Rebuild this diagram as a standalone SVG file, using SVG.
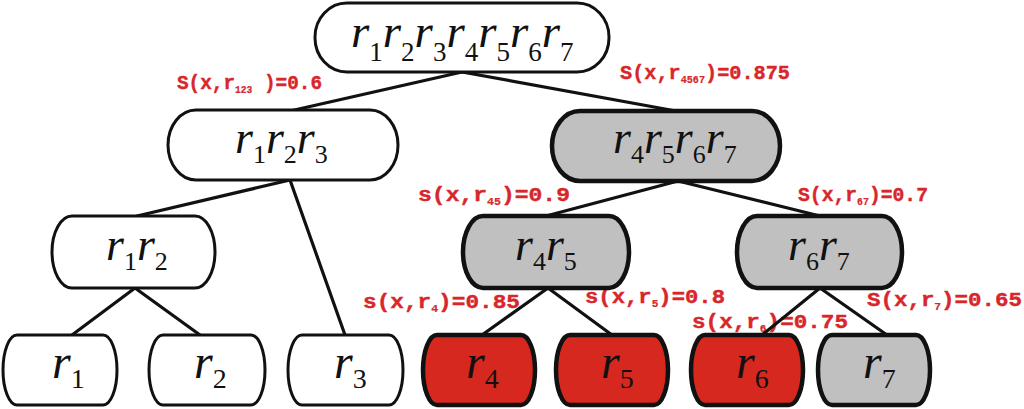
<svg xmlns="http://www.w3.org/2000/svg" width="1024" height="409" viewBox="0 0 1024 409">
<style>
.lbl{font-family:"Liberation Mono","Courier New",monospace;font-weight:bold;font-size:20px;fill:#d8262a;stroke:#d8262a;stroke-width:0.4}
.lbl .s{font-size:10px;stroke-width:0.2}
.nt{font-family:"Liberation Serif","Times New Roman",serif;font-style:italic;fill:#111}
.nt .s{font-style:normal}
.w{fill:#fff;stroke:#111;stroke-width:3}
.g{fill:#c0c0c0;stroke:#111;stroke-width:4.5}
.r{fill:#d6281f;stroke:#111;stroke-width:4.5}
.cn line{stroke:#111;stroke-width:3.2;stroke-linecap:round}
</style>
<g id="labels">
<text class="lbl" x="177" y="89" textLength="145" lengthAdjust="spacingAndGlyphs">S(x,r<tspan class="s" dy="4">123</tspan><tspan dy="-4"> )=0.6</tspan></text>
<text class="lbl" x="620" y="79" textLength="170" lengthAdjust="spacingAndGlyphs">S(x,r<tspan class="s" dy="4">4567</tspan><tspan dy="-4">)=0.875</tspan></text>
<text class="lbl" x="418" y="201" textLength="152" lengthAdjust="spacingAndGlyphs">s(x,r<tspan class="s" dy="4">45</tspan><tspan dy="-4">)=0.9</tspan></text>
<text class="lbl" x="798" y="201" textLength="130" lengthAdjust="spacingAndGlyphs">S(x,r<tspan class="s" dy="4">67</tspan><tspan dy="-4">)=0.7</tspan></text>
<text class="lbl" x="363" y="308" textLength="157" lengthAdjust="spacingAndGlyphs">s(x,r<tspan class="s" dy="4">4</tspan><tspan dy="-4">)=0.85</tspan></text>
<text class="lbl" x="585" y="303" textLength="140" lengthAdjust="spacingAndGlyphs">s(x,r<tspan class="s" dy="4">5</tspan><tspan dy="-4">)=0.8</tspan></text>
<text class="lbl" x="692" y="328" textLength="156" lengthAdjust="spacingAndGlyphs">s(x,r<tspan class="s" dy="4">6</tspan><tspan dy="-4">)=0.75</tspan></text>
<text class="lbl" x="867" y="306" textLength="155" lengthAdjust="spacingAndGlyphs">S(x,r<tspan class="s" dy="4">7</tspan><tspan dy="-4">)=0.65</tspan></text>
</g>
<g id="connectors" class="cn">
<line x1="462" y1="72" x2="290" y2="111"/>
<line x1="462" y1="72" x2="676" y2="111"/>
<line x1="290" y1="180" x2="137" y2="216"/>
<line x1="290" y1="180" x2="345" y2="335"/>
<line x1="135" y1="288" x2="72" y2="335"/>
<line x1="135" y1="288" x2="200" y2="335"/>
<line x1="678" y1="181" x2="546" y2="216"/>
<line x1="678" y1="181" x2="820" y2="216"/>
<line x1="548" y1="288" x2="482" y2="335"/>
<line x1="548" y1="288" x2="612" y2="335"/>
<line x1="820" y1="288" x2="762" y2="335"/>
<line x1="820" y1="288" x2="887" y2="335"/>
</g>
<g id="n_root">
<rect class="w" x="315" y="3" width="294" height="69" rx="32" ry="34"/>
<text class="nt" x="351" y="47" font-size="47">r<tspan class="s" font-size="27" dy="14">1</tspan><tspan dy="-14">r</tspan><tspan class="s" font-size="27" dy="14">2</tspan><tspan dy="-14">r</tspan><tspan class="s" font-size="27" dy="14">3</tspan><tspan dy="-14">r</tspan><tspan class="s" font-size="27" dy="14">4</tspan><tspan dy="-14">r</tspan><tspan class="s" font-size="27" dy="14">5</tspan><tspan dy="-14">r</tspan><tspan class="s" font-size="27" dy="14">6</tspan><tspan dy="-14">r</tspan><tspan class="s" font-size="27" dy="14">7</tspan></text>
</g>
<g id="n_r123">
<rect class="w" x="168" y="110" width="230" height="70" rx="28" ry="35"/>
<text class="nt" x="235" y="153" font-size="46">r<tspan class="s" font-size="26" dy="10">1</tspan><tspan dy="-10">r</tspan><tspan class="s" font-size="26" dy="10">2</tspan><tspan dy="-10">r</tspan><tspan class="s" font-size="26" dy="10">3</tspan></text>
</g>
<g id="n_r4567">
<rect class="g" x="552" y="111" width="228" height="70" rx="28" ry="35"/>
<text class="nt" x="613" y="153" font-size="46">r<tspan class="s" font-size="26" dy="10">4</tspan><tspan dy="-10">r</tspan><tspan class="s" font-size="26" dy="10">5</tspan><tspan dy="-10">r</tspan><tspan class="s" font-size="26" dy="10">6</tspan><tspan dy="-10">r</tspan><tspan class="s" font-size="26" dy="10">7</tspan></text>
</g>
<g id="n_r12">
<rect class="w" x="52" y="216" width="163" height="72" rx="20" ry="36"/>
<text class="nt" x="106" y="260" font-size="46">r<tspan class="s" font-size="26" dy="10">1</tspan><tspan dy="-10">r</tspan><tspan class="s" font-size="26" dy="10">2</tspan></text>
</g>
<g id="n_r45">
<rect class="g" x="463" y="216" width="166" height="72" rx="20" ry="36"/>
<text class="nt" x="515" y="260" font-size="46">r<tspan class="s" font-size="26" dy="10">4</tspan><tspan dy="-10">r</tspan><tspan class="s" font-size="26" dy="10">5</tspan></text>
</g>
<g id="n_r67">
<rect class="g" x="737" y="216" width="165" height="72" rx="20" ry="36"/>
<text class="nt" x="788" y="260" font-size="46">r<tspan class="s" font-size="26" dy="10">6</tspan><tspan dy="-10">r</tspan><tspan class="s" font-size="26" dy="10">7</tspan></text>
</g>
<g id="n_r1">
<rect class="w" x="3" y="335" width="114" height="70" rx="14" ry="35"/>
<text class="nt" x="52" y="378" font-size="48">r<tspan class="s" font-size="28" dy="10">1</tspan></text>
</g>
<g id="n_r2">
<rect class="w" x="149" y="335" width="116" height="70" rx="14" ry="35"/>
<text class="nt" x="194" y="378" font-size="48">r<tspan class="s" font-size="28" dy="10">2</tspan></text>
</g>
<g id="n_r3">
<rect class="w" x="288" y="335" width="115" height="70" rx="14" ry="35"/>
<text class="nt" x="334" y="378" font-size="48">r<tspan class="s" font-size="28" dy="10">3</tspan></text>
</g>
<g id="n_r4">
<rect class="r" x="423" y="335" width="112" height="70" rx="14" ry="35"/>
<text class="nt" x="466" y="378" font-size="48" fill="#2a1010">r<tspan class="s" font-size="28" dy="10">4</tspan></text>
</g>
<g id="n_r5">
<rect class="r" x="556" y="335" width="112" height="70" rx="14" ry="35"/>
<text class="nt" x="601" y="378" font-size="48">r<tspan class="s" font-size="28" dy="10">5</tspan></text>
</g>
<g id="n_r6">
<rect class="r" x="691" y="335" width="112" height="70" rx="14" ry="35"/>
<text class="nt" x="736" y="378" font-size="48">r<tspan class="s" font-size="28" dy="10">6</tspan></text>
</g>
<g id="n_r7">
<rect class="g" x="818" y="335" width="112" height="70" rx="14" ry="35"/>
<text class="nt" x="863" y="378" font-size="48" fill="#222">r<tspan class="s" font-size="28" dy="10">7</tspan></text>
</g>
</svg>
